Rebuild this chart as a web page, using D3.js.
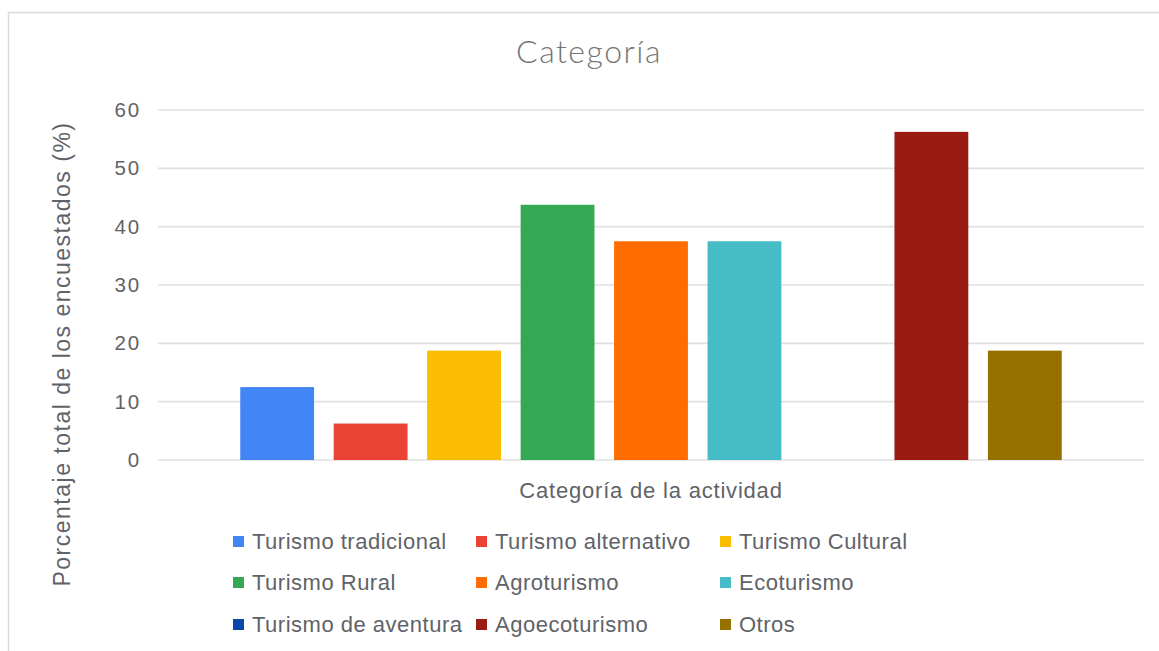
<!DOCTYPE html>
<html>
<head>
<meta charset="utf-8">
<script src="https://cdn.jsdelivr.net/npm/d3@7"></script>
<style>
  body { margin: 0; background: #fff; }
  svg { display: block; }
</style>
</head>
<body>
<div id="chart"></div>
<script>
// categories and values (% of respondents)
var categories = ["Turismo tradicional", "Turismo alternativo", "Turismo Cultural",
                  "Turismo Rural", "Agroturismo", "Ecoturismo",
                  "Turismo de aventura", "Agoecoturismo", "Otros"]
var values = [12.5, 6.25, 18.75, 43.75, 37.5, 37.5, 0, 56.25, 18.75]
var colors = ["#4285f4", "#ea4335", "#fbbc04", "#34a853", "#ff6d01", "#46bdc6",
              "#0b47a8", "#9a1b12", "#977100"]
var yTicks = [0, 10, 20, 30, 40, 50, 60]

var width  = 1159
var height = 651
var font = "Liberation Sans, Arial, sans-serif"
var textColor = "#5f6368"

var svg = d3.select("#chart").append("svg")
    .attr("width", width)
    .attr("height", height)

// outer frame (cut off at right and bottom)
svg.append("rect")
    .attr("x", 8.5).attr("y", 12.5)
    .attr("width", 1200).attr("height", 700)
    .attr("fill", "none")
    .attr("stroke", "#d9d9d9")
    .attr("stroke-width", 1.5)

var x = d3.scaleBand()
    .domain(categories)
    .range([158, 1144])
    .paddingInner(0.21)
    .paddingOuter(0.88)

var y = d3.scaleLinear()
    .domain([0, 60])
    .range([460, 110])

// gridlines
svg.append("g")
    .selectAll("line")
    .data(yTicks)
    .enter()
    .append("line")
    .attr("x1", 158)
    .attr("x2", 1144)
    .attr("y1", function (d) { return y(d) })
    .attr("y2", function (d) { return y(d) })
    .attr("stroke", "#e0e0e0")
    .attr("stroke-width", 1.6)

// y tick labels
svg.append("g")
    .selectAll("text")
    .data(yTicks)
    .enter()
    .append("text")
    .attr("x", 141)
    .attr("y", function (d) { return y(d) + 7 })
    .attr("text-anchor", "end")
    .attr("font-family", font)
    .attr("font-size", 20.5)
    .attr("letter-spacing", 1.8)
    .attr("fill", textColor)
    .text(function (d) { return d })

// bars
svg.append("g")
    .selectAll("rect")
    .data(values)
    .enter()
    .append("rect")
    .attr("x", function (d, i) { return x(categories[i]) })
    .attr("y", function (d) { return y(d) })
    .attr("width", x.bandwidth())
    .attr("height", function (d) { return y(0) - y(d) })
    .attr("fill", function (d, i) { return colors[i] })

// title
svg.append("text")
    .attr("x", 589)
    .attr("y", 63)
    .attr("text-anchor", "middle")
    .attr("font-family", "Lato, sans-serif")
    .attr("font-weight", 300)
    .attr("font-size", 32)
    .attr("letter-spacing", 1.5)
    .attr("fill", "#757575")
    .text("Categoría")

// axis titles
svg.append("text")
    .attr("x", 651)
    .attr("y", 498)
    .attr("text-anchor", "middle")
    .attr("font-family", font)
    .attr("font-size", 22)
    .attr("letter-spacing", 0.8)
    .attr("fill", textColor)
    .text("Categoría de la actividad")

svg.append("text")
    .attr("transform", "translate(70,354) rotate(-90)")
    .attr("text-anchor", "middle")
    .attr("font-family", font)
    .attr("font-size", 23)
    .attr("letter-spacing", 1.5)
    .attr("fill", textColor)
    .text("Porcentaje total de los encuestados (%)")

// legend, 3 columns
var colX = [233, 476, 720]
var rowY = [541.5, 582.5, 624.5]

var legend = svg.append("g")
    .selectAll("g")
    .data(categories)
    .enter()
    .append("g")
    .attr("transform", function (d, i) {
        return "translate(" + colX[i % 3] + "," + rowY[Math.floor(i / 3)] + ")"
    })

legend.append("rect")
    .attr("x", 0).attr("y", -5.5)
    .attr("width", 11).attr("height", 11)
    .attr("fill", function (d, i) { return colors[i] })

legend.append("text")
    .attr("x", 19)
    .attr("y", 7.5)
    .attr("font-family", font)
    .attr("font-size", 22)
    .attr("letter-spacing", 0.5)
    .attr("fill", textColor)
    .text(function (d) { return d })
</script>
</body>
</html>
